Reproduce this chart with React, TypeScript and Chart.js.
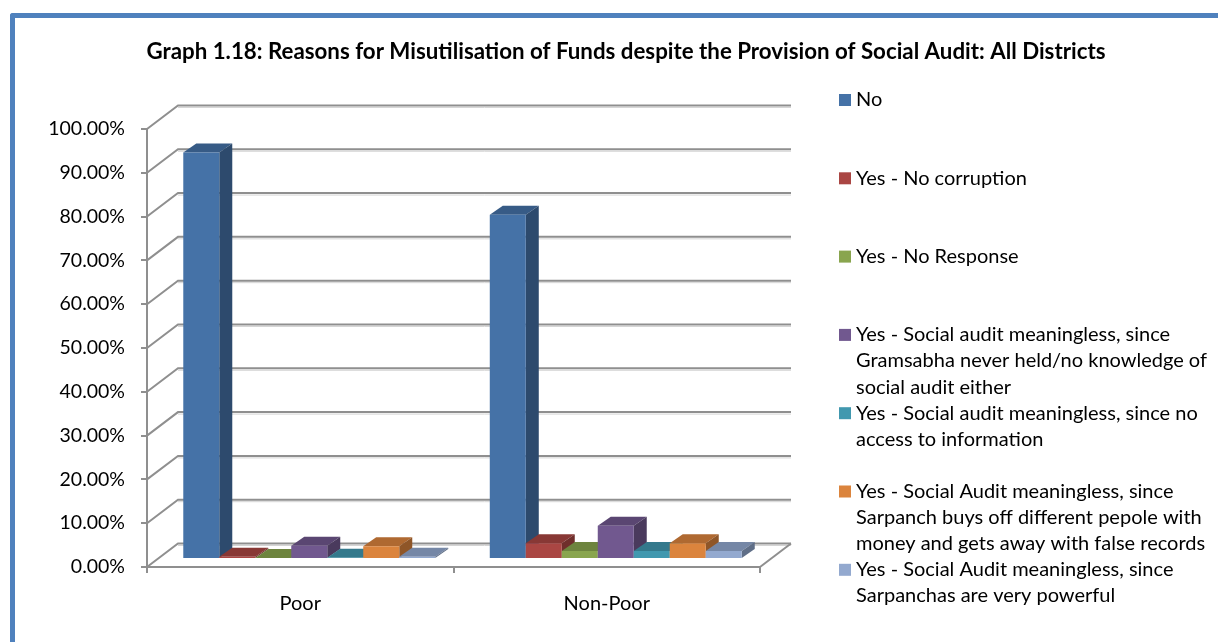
import React, { useEffect, useRef } from "react";
import { Chart, registerables } from "chart.js";

Chart.register(...registerables);

const categories = ["Poor", "Non-Poor"];
const seriesNames = [
  "No",
  "Yes - No corruption",
  "Yes - No Response",
  "Yes - Social audit meaningless, since Gramsabha never held/no knowledge of social audit either",
  "Yes - Social audit meaningless, since no access to information",
  "Yes - Social Audit meaningless, since Sarpanch buys off different pepole with money and gets away with false records",
  "Yes - Social Audit meaningless, since Sarpanchas are very powerful",
];
const legendLines = [
  ["No", "", ""],
  ["Yes - No corruption", "", ""],
  ["Yes - No Response", "", ""],
  ["Yes - Social audit meaningless, since", "Gramsabha never held/no knowledge of", "social audit either"],
  ["Yes - Social audit meaningless, since no", "access to information", ""],
  ["Yes - Social Audit meaningless, since", "Sarpanch buys off different pepole with", "money and gets away with false records"],
  ["Yes - Social Audit meaningless, since", "Sarpanchas are very powerful", ""],
];
const noValues = [92.8, 78.6];
const noCorruption = [0.5, 3.6];
const noResponse = [0.2, 1.8];
const gramsabha = [3.0, 7.6];
const noAccess = [0.3, 1.8];
const sarpanchBuys = [2.9, 3.6];
const powerful = [0.5, 1.8];
const seriesValues = [noValues, noCorruption, noResponse, gramsabha, noAccess, sarpanchBuys, powerful];

const frontColors = ["#4572a7", "#aa4643", "#89a54e", "#71588f", "#4198af", "#db843d", "#93a9cf"];
const topColors = ["#375b86", "#883835", "#6d843e", "#5a4672", "#34798c", "#af6931", "#7587a6"];
const sideColors = ["#2d4a6d", "#6f2e2b", "#596c33", "#4a3a5d", "#2a6272", "#8f5628", "#5f6e87"];

const TITLE = "Graph 1.18: Reasons for Misutilisation of Funds despite the Provision of Social Audit: All Districts";
const FONT = "Lato, Carlito, 'Open Sans', sans-serif";
const FONT_SIZE = 20;
const LINE = 26.1;

const BAR_SHIFT_X = 9;
const BAR_SHIFT_Y = -8;
const BAR_DX = 13;
const BAR_DY = -9;
const WALL_DX = 31;
const WALL_DY = -23.5;

const poly = (ctx: CanvasRenderingContext2D, pts: number[][], fill: string) => {
  ctx.beginPath();
  pts.forEach(([x, y], i) => (i ? ctx.lineTo(x, y) : ctx.moveTo(x, y)));
  ctx.closePath();
  ctx.fillStyle = fill;
  ctx.fill();
};

const wallsAndBars = {
  id: "wallsAndBars",
  afterLayout(chart: any) {
    const lg = chart.legend;
    lg.left = 856 - 1 - FONT_SIZE / 2;
    lg.right = 1218;
    lg.top = 100 - FONT_SIZE / 2;
    lg.bottom = 642;
    const tb = chart.titleBlock;
    tb.left = 34;
    tb.right = 1218;
  },
  beforeDatasetsDraw(chart: any) {
    const { ctx, scales, chartArea } = chart;
    const y = scales.y;
    ctx.save();
    y.ticks.forEach((t: any) => {
      const py = y.getPixelForValue(t.value);
      ctx.strokeStyle = "#d4d4d4";
      ctx.lineWidth = 1;
      ctx.beginPath();
      ctx.moveTo(chartArea.left + WALL_DX, py + WALL_DY + 2);
      ctx.lineTo(chartArea.right + WALL_DX, py + WALL_DY + 2);
      ctx.stroke();
      ctx.strokeStyle = "#8f8f8f";
      ctx.lineWidth = 2;
      ctx.beginPath();
      ctx.moveTo(chartArea.left, py);
      ctx.lineTo(chartArea.left + WALL_DX, py + WALL_DY);
      ctx.lineTo(chartArea.right + WALL_DX, py + WALL_DY);
      ctx.stroke();
    });
    const by = y.getPixelForValue(0);
    ctx.beginPath();
    ctx.moveTo(chartArea.right, by);
    ctx.lineTo(chartArea.right + WALL_DX, by + WALL_DY);
    ctx.stroke();

    ctx.translate(BAR_SHIFT_X, BAR_SHIFT_Y);
    chart.data.datasets.forEach((_: any, di: number) => {
      const meta = chart.getDatasetMeta(di);
      meta.data.forEach((bar: any) => {
        const p = bar.getProps(["x", "y", "base", "width"], true);
        const l = p.x - p.width / 2;
        const r = p.x + p.width / 2;
        poly(ctx, [[l, p.y], [l + BAR_DX, p.y + BAR_DY], [r + BAR_DX, p.y + BAR_DY], [r, p.y]], topColors[di]);
        poly(ctx, [[r, p.y], [r + BAR_DX, p.y + BAR_DY], [r + BAR_DX, p.base + BAR_DY], [r, p.base]], sideColors[di]);
        bar.draw(ctx);
      });
    });
    ctx.restore();
    return false;
  },
  afterDraw(chart: any) {
    const { ctx } = chart;
    ctx.save();
    frontColors.forEach((c, i) => {
      ctx.fillStyle = c;
      ctx.fillRect(839, 100 + i * 3 * LINE - 6, 12, 12);
    });
    ctx.restore();
  },
};

export default function App() {
  const ref = useRef<HTMLCanvasElement>(null);
  useEffect(() => {
    const chart = new Chart(ref.current!, {
      type: "bar",
      data: {
        labels: categories,
        datasets: seriesNames.map((label, i) => ({
          label,
          data: seriesValues[i],
          backgroundColor: frontColors[i],
          categoryPercentage: 0.822,
          barPercentage: 1,
        })),
      },
      plugins: [wallsAndBars],
      options: {
        animation: false,
        responsive: false,
        devicePixelRatio: 1,
        layout: { autoPadding: false, padding: { left: 0, right: 158, top: 0, bottom: 0 } },
        plugins: {
          tooltip: { enabled: false },
          title: {
            display: true,
            text: TITLE,
            color: "#000",
            font: { family: FONT, size: 22.3, weight: "bold", lineHeight: 1.2 },
            padding: { top: 38, bottom: 64.2 },
          },
          legend: {
            display: true,
            position: "right",
            align: "start",
            maxWidth: 300,
            labels: {
              boxWidth: 1,
              boxHeight: 1,
              padding: 0,
              color: "#000",
              font: { family: FONT, size: FONT_SIZE, weight: "normal", lineHeight: LINE / FONT_SIZE },
              generateLabels: () =>
                legendLines.map((text, i) => ({
                  text,
                  fillStyle: "rgba(0,0,0,0)",
                  strokeStyle: "rgba(0,0,0,0)",
                  lineWidth: 0,
                  datasetIndex: i,
                })) as any,
            },
          },
        },
        scales: {
          x: {
            afterFit: (s: any) => { s.height = 642 - 567; },
            border: { color: "#8f8f8f", width: 2 },
            grid: { drawOnChartArea: false, drawTicks: true, tickLength: 6, color: "#8f8f8f", lineWidth: 2 },
            ticks: { color: "#000", padding: 19, font: { family: FONT, size: FONT_SIZE } },
          },
          y: {
            min: 0,
            max: 100,
            afterFit: (s: any) => { s.width = 147; },
            border: { color: "#8f8f8f", width: 2 },
            grid: { drawOnChartArea: false, drawTicks: true, tickLength: 6, color: "#8f8f8f", lineWidth: 2 },
            ticks: {
              stepSize: 10,
              color: "#000",
              padding: 16,
              font: { family: FONT, size: 19.5 },
              callback: (v: any) => Number(v).toFixed(2) + "%",
            },
          },
        },
      },
    } as any);
    return () => chart.destroy();
  }, []);
  return (
    <div style={{ position: "fixed", left: 0, top: 0, width: 1218, height: 642, background: "#fff", overflow: "hidden" }}>
      <canvas ref={ref} width={1218} height={642} style={{ position: "absolute", left: 0, top: 0, width: 1218, height: 642 }} />
      <div
        style={{
          position: "absolute",
          left: 10,
          top: 13,
          right: -10,
          bottom: -10,
          borderTop: "5px solid #4f81bd",
          borderLeft: "5px solid #4f81bd",
          borderTopLeftRadius: 3,
          pointerEvents: "none",
        }}
      />
    </div>
  );
}
